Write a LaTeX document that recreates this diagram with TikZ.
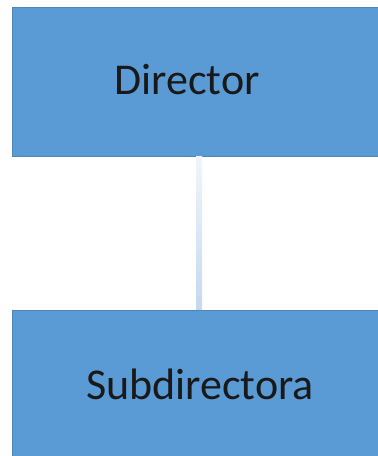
\documentclass[tikz,border=0pt]{standalone}
\usepackage{fontspec}
\setmainfont{Carlito}
\definecolor{boxblue}{HTML}{5B9BD5}
\definecolor{boxedge}{HTML}{4F86B8}
\definecolor{linkblue}{HTML}{C4D9EF}
\tikzset{
  orgbox/.style={draw=boxedge, line width=0.8pt, fill=boxblue, inner sep=0pt,
    minimum width=368pt, minimum height=149pt, rectangle},
  orglabel/.style={font=\fontsize{44}{52}\selectfont, text=black!90, inner sep=0pt},
}
\begin{document}
\begin{tikzpicture}[x=1pt,y=-1pt]
\useasboundingbox (0,0) rectangle (378,456);
\node[orgbox] (top) at (196,81.5) {};
\node[orgbox] (bot) at (196,384.5) {};
% connector: a soft light-blue bar from box to box
\coordinate (ctop) at ([xshift=3pt]top.south);
\coordinate (cbot) at ([xshift=3pt]bot.north);
\shade[top color=white!75!linkblue, middle color=white!88!linkblue, bottom color=linkblue]
  ([xshift=-3pt]ctop) rectangle ([xshift=3pt]cbot);
\node[orglabel, anchor=base] (dir) at (187,94) {Director};
\node[orglabel, anchor=base] (sub) at (200,399) {Subdirectora};
\end{tikzpicture}
\end{document}
